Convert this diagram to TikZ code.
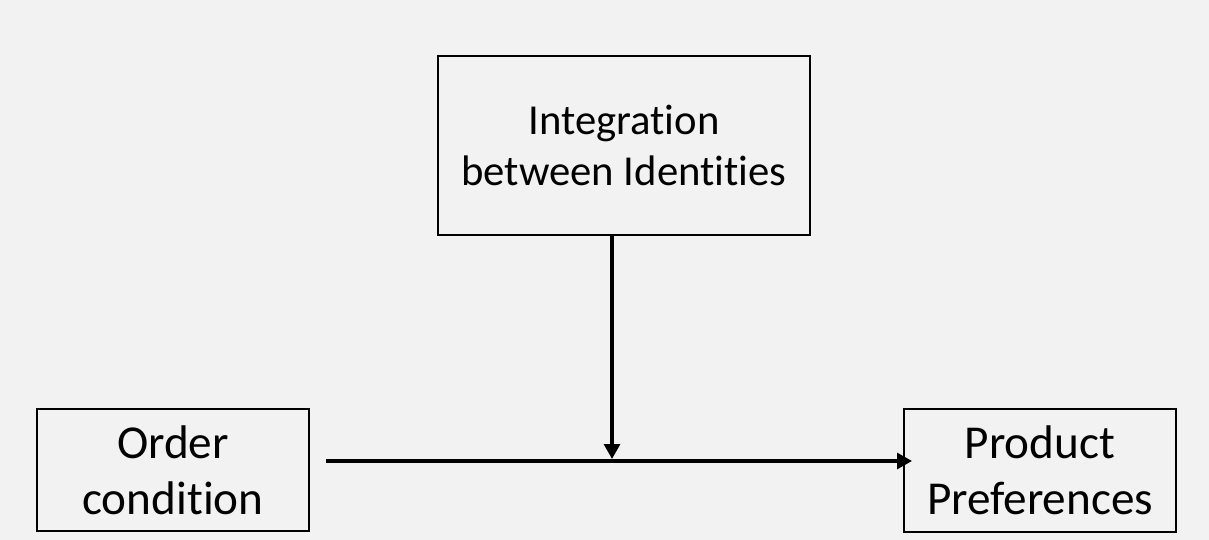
\documentclass[tikz,border=0pt]{standalone}
\usepackage{fontspec}
\setmainfont{Carlito}[Ligatures=NoCommon]
\usetikzlibrary{arrows.meta}
\definecolor{bgcol}{HTML}{F2F2F2}
\begin{document}
\begin{tikzpicture}[x=1pt,y=-1pt,
  box/.style={draw=black,line width=2pt,fill=bgcol,rectangle,inner sep=0pt,
    align=center,text=black},
  bigtext/.style={font=\fontsize{47.2}{56}\selectfont},
  toptext/.style={font=\fontsize{42.7}{51}\selectfont},
  link/.style={line width=3.2pt,-{Triangle[length=15pt,width=16pt]}}]
  \fill[bgcol] (0,0) rectangle (1209,540);
  \useasboundingbox (0,0) rectangle (1209,540);

  \node[box,toptext,minimum width=372pt,minimum height=179pt] (integ) at (624,145.5)
    {Integration\\between Identities};
  \node[box,bigtext,minimum width=272pt,minimum height=122pt] (order) at (173,470)
    {Order\\condition};
  \node[box,bigtext,minimum width=272pt,minimum height=123pt] (pref) at (1040,470)
    {Product\\Preferences};

  \coordinate (start) at (326,461);
  \coordinate (join) at (612,461);

  \draw[link,shorten >=-9pt] (start) -- (pref.west |- start);
  \draw[link,shorten >=2pt] (integ.south -| join) -- (join);
\end{tikzpicture}
\end{document}
